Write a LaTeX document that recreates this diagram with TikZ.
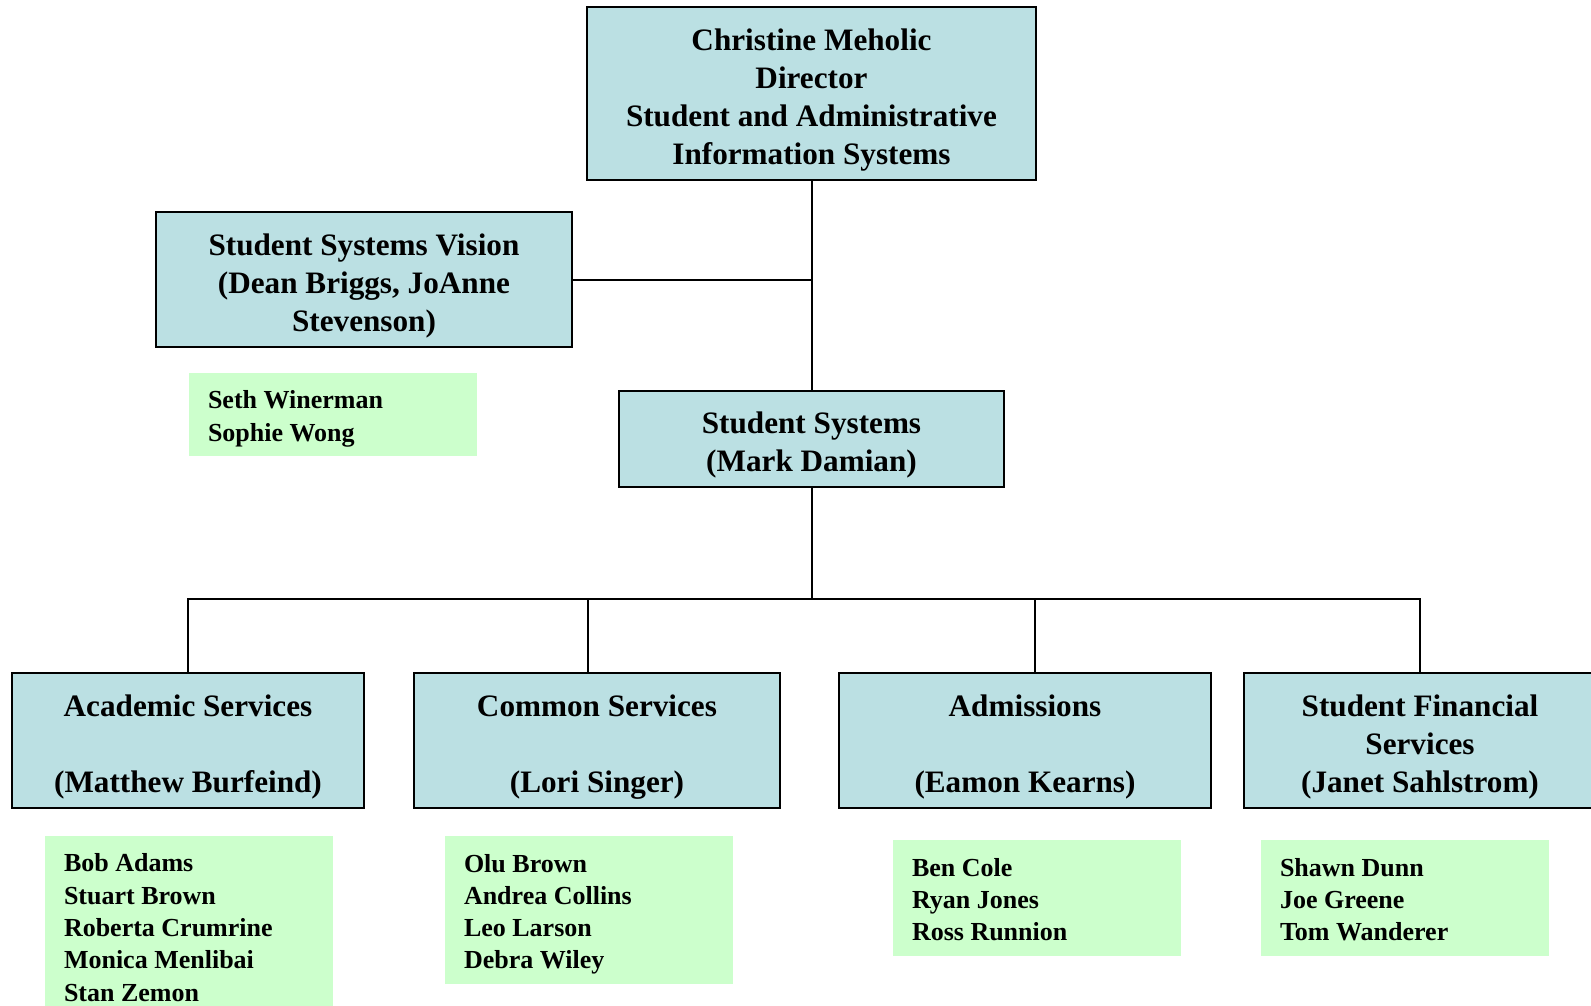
\documentclass[tikz,border=0pt]{standalone}
\usepackage{fontspec}
\setmainfont{Liberation Serif}
\definecolor{unitblue}{RGB}{187,224,227}
\definecolor{staffgreen}{RGB}{204,255,204}
\begin{document}
\begin{tikzpicture}[x=1pt,y=-1pt,line width=2pt,
	unit/.style={draw=black,fill=unitblue,align=flush center,inner sep=0pt,text width=#1,font=\fontsize{31.2}{38}\selectfont\bfseries,
		execute at begin node={\rule{0pt}{34pt}}},
	staff/.style={fill=staffgreen,anchor=north west,align=flush left,inner xsep=19pt,inner ysep=0pt,text width=250pt,font=\fontsize{26}{32.3}\selectfont\bfseries,
		execute at begin node={\rule{0pt}{26.7pt}},execute at end node={\rule[-5.7pt]{0pt}{5.7pt}}}]
			\useasboundingbox (0,0) rectangle (1591,1006);
			% director and the two units under her
			\node[unit=449pt,minimum height=173pt] (dir) at (811.5,93.5) {Christine Meholic\\Director\\Student and Administrative\\Information Systems};
			\node[unit=416pt,minimum height=135pt] (vision) at (364,279.5) {Student Systems Vision\\(Dean Briggs, JoAnne\\Stevenson)};
			\node[staff,minimum height=83pt] (visionstaff) at (188,372) {Seth Winerman\\Sophie Wong};
			\node[unit=384.5pt,minimum height=96pt] (ss) at (811.5,439) {Student Systems\\(Mark Damian)};
			% the four groups
			\node[unit=352pt,minimum height=135pt] (acad) at (188,740.5) {Academic Services\\[38pt](Matthew Burfeind)};
			\node[unit=366pt,minimum height=135pt] (comm) at (597,740.5) {Common Services\\[38pt](Lori Singer)};
			\node[unit=372.5pt,minimum height=135pt] (adm) at (1025,740.5) {Admissions\\[38pt](Eamon Kearns)};
			\node[unit=352pt,minimum height=135pt] (sfs) at (1420,740.5) {Student Financial\\Services\\(Janet Sahlstrom)};
			\node[staff,minimum height=180pt] (acadstaff) at (44,835) {Bob Adams\\Stuart Brown\\Roberta Crumrine\\Monica Menlibai\\Stan Zemon};
			\node[staff,minimum height=148pt] (commstaff) at (444,835) {Olu Brown\\Andrea Collins\\Leo Larson\\Debra Wiley};
			\node[staff,minimum height=116pt] (admstaff) at (892,839) {Ben Cole\\Ryan Jones\\Ross Runnion};
			\node[staff,minimum height=116pt] (sfsstaff) at (1260,839) {Shawn Dunn\\Joe Greene\\Tom Wanderer};
			% lines
			\draw (dir.south) -- (ss.north);
			\draw (vision.east) -- (vision.east -| dir.south);
			\coordinate (bus) at (811.5,599); \coordinate (commdrop) at (587.5,599); \coordinate (admdrop) at (1035,599);
			\draw (ss.south) -- (bus);
			\draw (acad.north) |- (bus) -| (sfs.north);
			\draw (commdrop) -- (commdrop |- comm.north);
			\draw (admdrop) -- (admdrop |- adm.north);
\end{tikzpicture}
\end{document}
